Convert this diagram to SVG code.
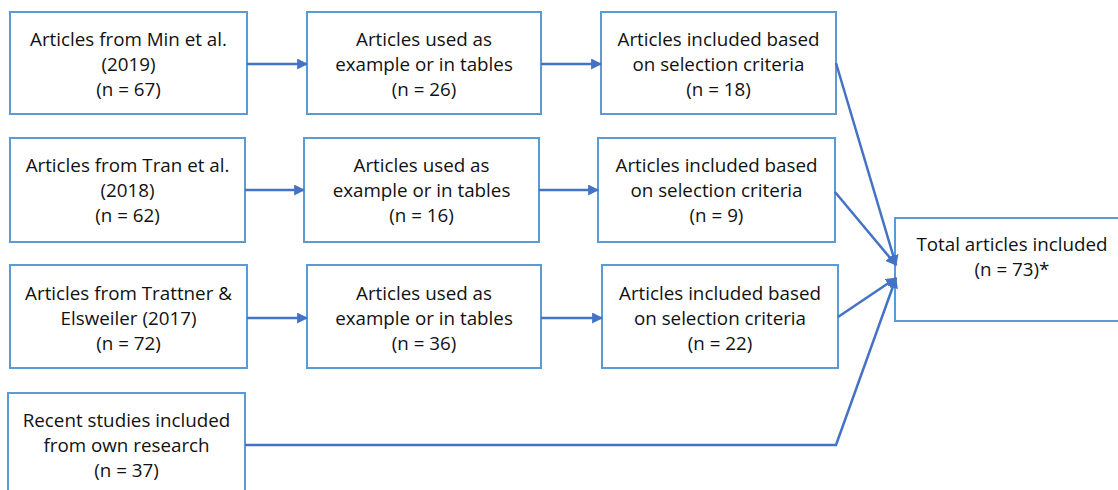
<svg xmlns="http://www.w3.org/2000/svg" width="1118" height="490" viewBox="0 0 1118 490">
<defs>
<style>
.box{fill:#fff;stroke:#5b9bd5;stroke-width:2}
.t{font-family:"Open Sans","Noto Sans","Liberation Sans",sans-serif;font-size:18.8px;fill:#111;text-anchor:middle}
.c{fill:none;stroke:#4472c4;stroke-width:2.5}
</style>
<marker id="ah" markerWidth="11" markerHeight="11" viewBox="0 0 10 10" refX="9" refY="5" orient="auto" markerUnits="userSpaceOnUse">
<path d="M0,0 L10,5 L0,10 z" fill="#4472c4"/>
</marker>
</defs>
<rect width="1118" height="490" fill="#fff"/>
<g id="n1"><rect class="box" x="10" y="12" width="237" height="102"/><text class="t" x="128.5" y="46">Articles from Min et al.</text><text class="t" x="128.5" y="71">(2019)</text><text class="t" x="128.5" y="96">(n = 67)</text></g>
<g id="n2"><rect class="box" x="307" y="12" width="234" height="102"/><text class="t" x="424" y="46">Articles used as</text><text class="t" x="424" y="71">example or in tables</text><text class="t" x="424" y="96">(n = 26)</text></g>
<g id="n3"><rect class="box" x="601" y="12" width="235" height="102"/><text class="t" x="718.5" y="46">Articles included based</text><text class="t" x="718.5" y="71">on selection criteria</text><text class="t" x="718.5" y="96">(n = 18)</text></g>
<g id="n4"><rect class="box" x="10" y="138" width="235" height="104"/><text class="t" x="127.5" y="172">Articles from Tran et al.</text><text class="t" x="127.5" y="197">(2018)</text><text class="t" x="127.5" y="222">(n = 62)</text></g>
<g id="n5"><rect class="box" x="304" y="138" width="235" height="104"/><text class="t" x="421.5" y="172">Articles used as</text><text class="t" x="421.5" y="197">example or in tables</text><text class="t" x="421.5" y="222">(n = 16)</text></g>
<g id="n6"><rect class="box" x="598" y="138" width="237" height="104"/><text class="t" x="716.5" y="172">Articles included based</text><text class="t" x="716.5" y="197">on selection criteria</text><text class="t" x="716.5" y="222">(n = 9)</text></g>
<g id="n7"><rect class="box" x="10" y="265" width="237" height="103"/><text class="t" x="128.5" y="300">Articles from Trattner &amp;</text><text class="t" x="128.5" y="325">Elsweiler (2017)</text><text class="t" x="128.5" y="350">(n = 72)</text></g>
<g id="n8"><rect class="box" x="307" y="265" width="234" height="103"/><text class="t" x="424" y="300">Articles used as</text><text class="t" x="424" y="325">example or in tables</text><text class="t" x="424" y="350">(n = 36)</text></g>
<g id="n9"><rect class="box" x="602" y="265" width="236" height="103"/><text class="t" x="720" y="300">Articles included based</text><text class="t" x="720" y="325">on selection criteria</text><text class="t" x="720" y="350">(n = 22)</text></g>
<g id="n10"><rect class="box" x="8" y="393" width="237" height="110"/><text class="t" x="126.5" y="427">Recent studies included</text><text class="t" x="126.5" y="452">from own research</text><text class="t" x="126.5" y="477">(n = 37)</text></g>
<g id="n11"><rect class="box" x="895" y="218" width="230" height="103"/><text class="t" x="1012" y="251">Total articles included</text><text class="t" x="1012" y="276">(n = 73)*</text></g>
<g id="connectors">
<line class="c" x1="247" y1="64" x2="307" y2="64" marker-end="url(#ah)"/>
<line class="c" x1="541" y1="64" x2="601" y2="64" marker-end="url(#ah)"/>
<line class="c" x1="245" y1="190" x2="304" y2="190" marker-end="url(#ah)"/>
<line class="c" x1="539" y1="190" x2="598" y2="190" marker-end="url(#ah)"/>
<line class="c" x1="247" y1="318" x2="307" y2="318" marker-end="url(#ah)"/>
<line class="c" x1="541" y1="318" x2="602" y2="318" marker-end="url(#ah)"/>
<line class="c" x1="836" y1="63" x2="896" y2="265" marker-end="url(#ah)"/>
<line class="c" x1="835" y1="192" x2="896" y2="265" marker-end="url(#ah)"/>
<line class="c" x1="838" y1="317" x2="896" y2="278" marker-end="url(#ah)"/>
<polyline class="c" points="245,445 836,445 896,278" marker-end="url(#ah)"/>
</g>
</svg>
